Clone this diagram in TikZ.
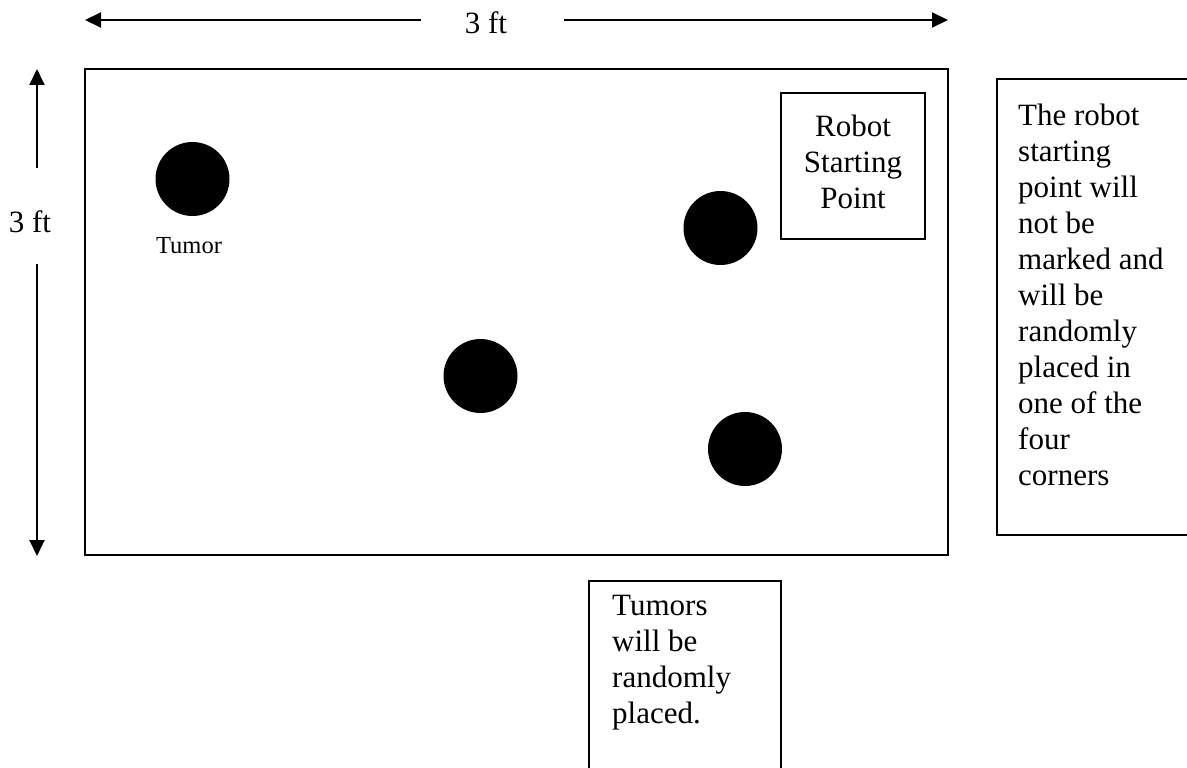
\documentclass[tikz,border=0pt]{standalone}
\usepackage{fontspec}
\setmainfont{Liberation Serif}
\usetikzlibrary{arrows.meta}
\tikzset{
  dim/.style={line width=1.9pt, -{Triangle[length=16pt,width=15pt]}},
  frame/.style={draw, line width=2.4pt},
  tumor/.style={circle, fill=black, inner sep=0pt, minimum size=74pt},
  bigtext/.style={font=\fontsize{31}{36}\selectfont, inner sep=0pt},
  smalltext/.style={font=\fontsize{24.5}{28}\selectfont, inner sep=0pt},
}
\begin{document}
\begin{tikzpicture}[x=1pt, y=-1pt]
\useasboundingbox (0,0) rectangle (1187,768);
\clip (0,0) rectangle (1187,768);

% playing field
\draw[frame] (85,69) rectangle (948,555);

% horizontal dimension
\node[bigtext, anchor=base] (wlabel) at (486,34) {3 ft};
\coordinate (wl) at (421,20);
\coordinate (wr) at (564,20);
\coordinate (wltip) at (85,20);
\coordinate (wrtip) at (948,20);
\draw[dim] (wl) -- (wltip);
\draw[dim] (wr) -- (wrtip);

% vertical dimension
\node[bigtext, anchor=base] (hlabel) at (30,232) {3 ft};
\coordinate (ht) at (37,168);
\coordinate (hb) at (37,264);
\coordinate (httip) at (37,69);
\coordinate (hbtip) at (37,556);
\draw[dim] (ht) -- (httip);
\draw[dim] (hb) -- (hbtip);

% tumors
\node[tumor] (t1) at (192.5,179) {};
\node[tumor] (t2) at (720.5,228) {};
\node[tumor] (t3) at (480.5,376) {};
\node[tumor] (t4) at (745,449) {};
\node[smalltext, anchor=base] (t1label) at (189,253) {Tumor};

% robot start box
\node[frame, minimum width=144pt, minimum height=146pt] (startbox) at (853,166) {};
\node[bigtext, align=center] (starttext) at (853,162) {Robot\\Starting\\Point};

% side note, running off the right edge
\draw[frame] (1200,535) -- (997,535) -- (997,79) -- (1200,79);
\node[bigtext, anchor=north west, align=left] (notetext) at (1018,104)
  {The robot\\starting\\point will\\not be\\marked and\\will be\\randomly\\placed in\\one of the\\four\\corners};

% bottom note, running off the lower edge
\draw[frame] (589,800) -- (589,581) -- (781,581) -- (781,800);
\node[bigtext, anchor=north west, align=left] (tumortext) at (612,595)
  {Tumors\\will be\\randomly\\placed.};
\end{tikzpicture}
\end{document}
